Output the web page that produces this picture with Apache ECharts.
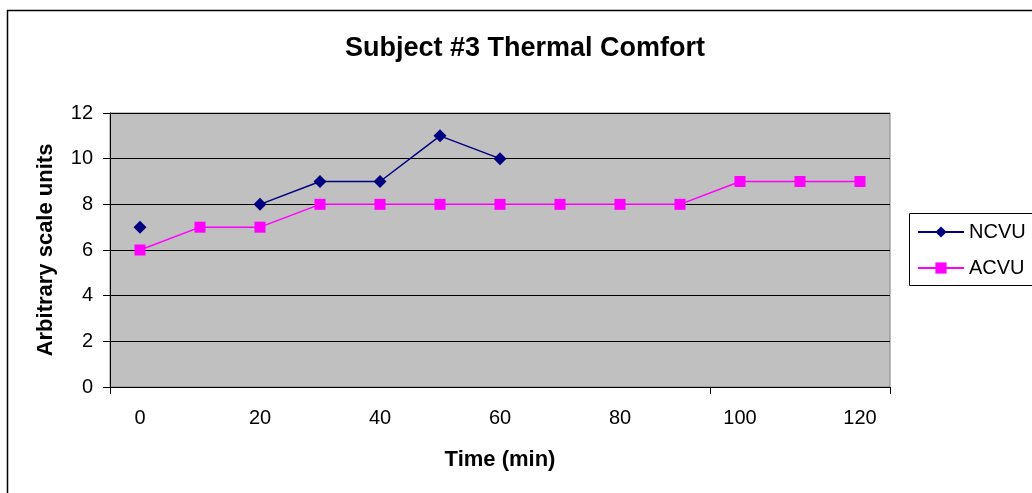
<!DOCTYPE html>
<html>
<head>
<meta charset="utf-8">
<script src="https://cdn.jsdelivr.net/npm/echarts@6/dist/echarts.min.js"></script>
<style>
html,body{margin:0;padding:0;background:#fff;}
#c{width:1032px;height:493px;}
</style>
</head>
<body>
<div id="c"></div>
<script>
var categories = ['0','10','20','30','40','50','60','70','80','90','100','110','120'];
var ncvu = [7, null, 8, 9, 9, 11, 10, null, null, null, null, null, null];
var acvu = [6, 7, 7, 8, 8, 8, 8, 8, 8, 8, 9, 9, 9];
var yTicks = {min: 0, max: 12, interval: 2};

var FONT = '"Liberation Sans", Arial, sans-serif';
var chart = echarts.init(document.getElementById('c'), null, {renderer: 'canvas'});
chart.setOption({
  animation: false,
  backgroundColor: '#ffffff',
  textStyle: {fontFamily: FONT},
  title: {
    text: 'Subject #3 Thermal Comfort',
    left: 525, top: 30, textAlign: 'center',
    textStyle: {fontFamily: FONT, fontSize: 27, fontWeight: 'bold', color: '#000'}
  },
  graphic: [
    {type: 'rect', z: -1, shape: {x: 7.5, y: 10.5, width: 1100, height: 600},
     style: {fill: null, stroke: '#000', lineWidth: 1.5}},
    {type: 'rect', z: -1, shape: {x: 909.5, y: 213.5, width: 200, height: 72},
     style: {fill: '#fff', stroke: '#000', lineWidth: 1}}
  ],
  legend: {
    orient: 'vertical',
    left: 917, top: 222,
    itemWidth: 46, itemHeight: 14, itemGap: 16,
    padding: 0,
    textStyle: {fontFamily: FONT, fontSize: 20, color: '#000'},
    data: ['NCVU', 'ACVU']
  },
  grid: {
    left: 110, right: 142, top: 113, bottom: 106,
    show: true, backgroundColor: '#c0c0c0', borderColor: '#808080', borderWidth: 1
  },
  xAxis: {
    type: 'category',
    data: categories,
    boundaryGap: true,
    name: 'Time (min)',
    nameLocation: 'middle',
    nameGap: 62,
    nameTextStyle: {fontFamily: FONT, fontSize: 22, fontWeight: 'bold', color: '#000'},
    axisLine: {lineStyle: {color: '#000', width: 1}},
    axisTick: {show: true, interval: function (i) { return i % 10 === 0; }, length: 7, lineStyle: {color: '#000'}},
    axisLabel: {interval: 1, margin: 21, fontFamily: FONT, fontSize: 20, color: '#000'},
    splitLine: {show: false}
  },
  yAxis: {
    type: 'value',
    min: yTicks.min, max: yTicks.max, interval: yTicks.interval,
    name: 'Arbitrary scale units',
    nameLocation: 'middle',
    nameRotate: 90,
    nameGap: 53,
    nameTextStyle: {fontFamily: FONT, fontSize: 22, fontWeight: 'bold', color: '#000'},
    axisLine: {show: true, lineStyle: {color: '#000', width: 1}},
    axisTick: {show: true, length: 7, lineStyle: {color: '#000'}},
    axisLabel: {margin: 17, fontFamily: FONT, fontSize: 20, color: '#000'},
    splitLine: {show: true, lineStyle: {color: '#000', width: 1}}
  },
  series: [
    {
      name: 'NCVU', type: 'line', data: ncvu, connectNulls: false,
      symbol: 'diamond', symbolSize: 13, showAllSymbol: true,
      itemStyle: {color: '#000080'},
      lineStyle: {color: '#000080', width: 1.5},
      z: 3
    },
    {
      name: 'ACVU', type: 'line', data: acvu,
      symbol: 'rect', symbolSize: 11, showAllSymbol: true,
      itemStyle: {color: '#ff00ff'},
      lineStyle: {color: '#ff00ff', width: 1.5},
      z: 2
    }
  ]
});
chart.setOption({title: {left: 520}});
</script>
</body>
</html>
